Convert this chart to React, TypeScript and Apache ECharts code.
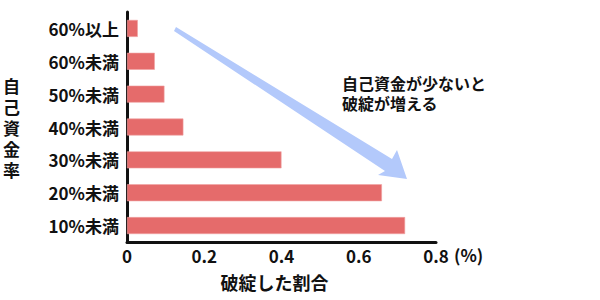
import React, { useEffect, useRef } from "react";
import * as echarts from "echarts";

const categories = ["10%未満", "20%未満", "30%未満", "40%未満", "50%未満", "60%未満", "60%以上"];
const failureRates = [0.72, 0.66, 0.4, 0.146, 0.097, 0.072, 0.028];
const xTicks = [0, 0.2, 0.4, 0.6, 0.8];
const yAxisTitle = "自己資金率";
const xAxisTitle = "破綻した割合";
const unitLabel = "(%)";
const noteLines = ["自己資金が少ないと", "破綻が増える"];

const FONT = "'Noto Sans CJK JP', 'Noto Sans', sans-serif";

export default function App() {
  const ref = useRef<HTMLDivElement>(null);
  useEffect(() => {
    if (!ref.current) return;
    const chart = echarts.init(ref.current, undefined, { renderer: "svg" });
    chart.setOption({
      animation: false,
      grid: { left: 124, right: 164, top: 12, bottom: 58 },
      xAxis: {
        type: "value",
        min: xTicks[0],
        max: xTicks[xTicks.length - 1],
        interval: 0.2,
        splitLine: { show: false },
        axisTick: { show: false },
        axisLine: { show: true, lineStyle: { color: "#111", width: 3 } },
        axisLabel: {
          color: "#111",
          fontFamily: FONT,
          fontWeight: "bold",
          fontSize: 17,
          margin: 5,
          formatter: (v: number) => (v === 0 ? "0" : v.toFixed(1)),
        },
        name: xAxisTitle,
        nameLocation: "middle",
        nameGap: 31,
        nameTextStyle: {
          color: "#111",
          fontFamily: FONT,
          fontWeight: "bold",
          fontSize: 18,
          padding: [0, 14, 0, 0],
        },
      },
      yAxis: {
        type: "category",
        data: categories,
        axisTick: { show: false },
        axisLine: { show: true, lineStyle: { color: "#111", width: 3 } },
        axisLabel: {
          color: "#111",
          fontFamily: FONT,
          fontWeight: "bold",
          fontSize: 17,
          margin: 8,
        },
        name: yAxisTitle.split("").join("\n"),
        nameLocation: "middle",
        nameRotate: 0,
        nameGap: 107,
        nameTextStyle: {
          color: "#111",
          fontFamily: FONT,
          fontWeight: "bold",
          fontSize: 17,
          lineHeight: 21,
          padding: [10, 0, 0, 0],
        },
      },
      series: [
        {
          type: "bar",
          data: failureRates,
          barWidth: 17,
          itemStyle: { color: "#e56b6b", borderColor: "#f0a3a3", borderWidth: 0.6 },
        },
      ],
      graphic: [
        {
          type: "polygon",
          shape: {
            points: [
              [176, 27],
              [392, 159],
              [397, 150],
              [407, 179],
              [378, 175],
              [385, 171],
              [174, 31],
            ],
          },
          style: { fill: "#b3c9fb" },
          z: 0,
        },
        {
          type: "text",
          left: 342,
          top: 73,
          style: {
            text: noteLines.join("\n"),
            fill: "#111",
            font: `bold 16px ${FONT}`,
            lineHeight: 20,
          },
        },
        {
          type: "text",
          left: 454,
          top: 246,
          style: {
            text: unitLabel,
            fill: "#111",
            font: `bold 17px ${FONT}`,
          },
        },
      ],
    });
    return () => chart.dispose();
  }, []);
  return (
    <div
      ref={ref}
      style={{ position: "fixed", left: 0, top: 0, width: 600, height: 300, background: "#fff" }}
    />
  );
}
